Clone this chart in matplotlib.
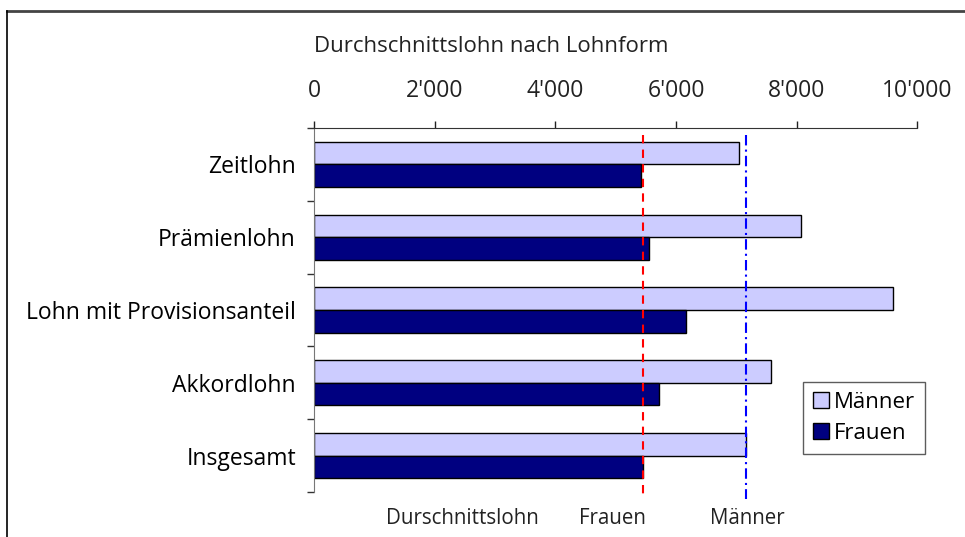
import matplotlib.pyplot as plt
from matplotlib.patches import Patch
from matplotlib.lines import Line2D
from matplotlib.ticker import FuncFormatter
import numpy as np

plt.rcParams['font.family'] = ['Open Sans', 'DejaVu Sans']

categories = ['Zeitlohn', 'Prämienlohn', 'Lohn mit Provisionsanteil', 'Akkordlohn', 'Insgesamt']
maenner = [7050, 8065, 9590, 7580, 7165]
frauen = [5415, 5550, 6160, 5725, 5450]
avg_frauen = 5450
avg_maenner = 7160
xticks = [0, 2000, 4000, 6000, 8000, 10000]

fig = plt.figure(figsize=(9.65, 5.37), dpi=100)
ax = fig.add_axes([0.3254, 0.0838, 0.6252, 0.6778])

y = np.arange(len(categories))
h = 0.31
ax.barh(y - h / 2, maenner, height=h, color='#CCCCFF', edgecolor='black', linewidth=1, label='Männer')
ax.barh(y + h / 2, frauen, height=h, color='#000080', edgecolor='black', linewidth=1, label='Frauen')

# average lines, reaching a bit below the axis
ax.plot([avg_frauen, avg_frauen], [-0.41, 4.6], color='#FF0000', linestyle=(0, (4, 3)), linewidth=1.5, clip_on=False)
ax.plot([avg_maenner, avg_maenner], [-0.41, 4.6], color='#0000FF', linestyle=(0, (5, 2, 1, 2)), linewidth=1.5, clip_on=False)

ax.set_xlim(0, 10000)
ax.set_ylim(len(categories) - 0.5, -0.5)
ax.xaxis.tick_top()
ax.set_xticks(xticks)
ax.xaxis.set_major_formatter(FuncFormatter(lambda v, p: f"{int(v):,}".replace(',', "'")))
ax.tick_params(axis='x', direction='out', length=5, width=1, pad=13, labelsize=16.5, colors='#222222')

ax.set_yticks(np.arange(len(categories) + 1) - 0.5)
ax.set_yticklabels([])
ax.set_yticks(y, minor=True)
ax.set_yticklabels(categories, minor=True, fontsize=16.5)
ax.tick_params(axis='y', which='major', direction='out', length=5, width=1, colors='#333333')
ax.tick_params(axis='y', which='minor', length=0, pad=13)

ax.spines['right'].set_visible(False)
ax.spines['bottom'].set_visible(False)
ax.spines['top'].set_color('#333333')
ax.spines['left'].set_color('#777777')

fig.text(314 / 965, 1 - 46 / 537, 'Durchschnittslohn nach Lohnform', fontsize=16, ha='left', va='center', color='#222222')
fig.text(462 / 965, 1 - 518 / 537, 'Durschnittslohn', fontsize=14.8, ha='center', va='center', color='#222222')
fig.text(612 / 965, 1 - 518 / 537, 'Frauen', fontsize=14.8, ha='center', va='center', color='#222222')
fig.text(747 / 965, 1 - 518 / 537, 'Männer', fontsize=14.8, ha='center', va='center', color='#222222')

handles = [Patch(facecolor='#CCCCFF', edgecolor='black'), Patch(facecolor='#000080', edgecolor='black')]
leg = fig.legend(handles, ['Männer', 'Frauen'], loc='upper left', bbox_to_anchor=(803 / 965, 1 - 382 / 537),
                 fontsize=16, frameon=True, fancybox=False, handlelength=0.7, handleheight=0.7,
                 handletextpad=0.25, borderpad=0.45, labelspacing=0.45, borderaxespad=0)
leg.get_frame().set_edgecolor('#333333')
leg.get_frame().set_linewidth(1)

# outer frame (top and left edges visible)
fig.add_artist(Line2D([7 / 965, 1], [1 - 11 / 537, 1 - 11 / 537], color='#444444', linewidth=2, transform=fig.transFigure))
fig.add_artist(Line2D([7 / 965, 7 / 965], [0, 1 - 11 / 537], color='black', linewidth=1.2, transform=fig.transFigure))

fig.savefig('out.png', dpi=100)
